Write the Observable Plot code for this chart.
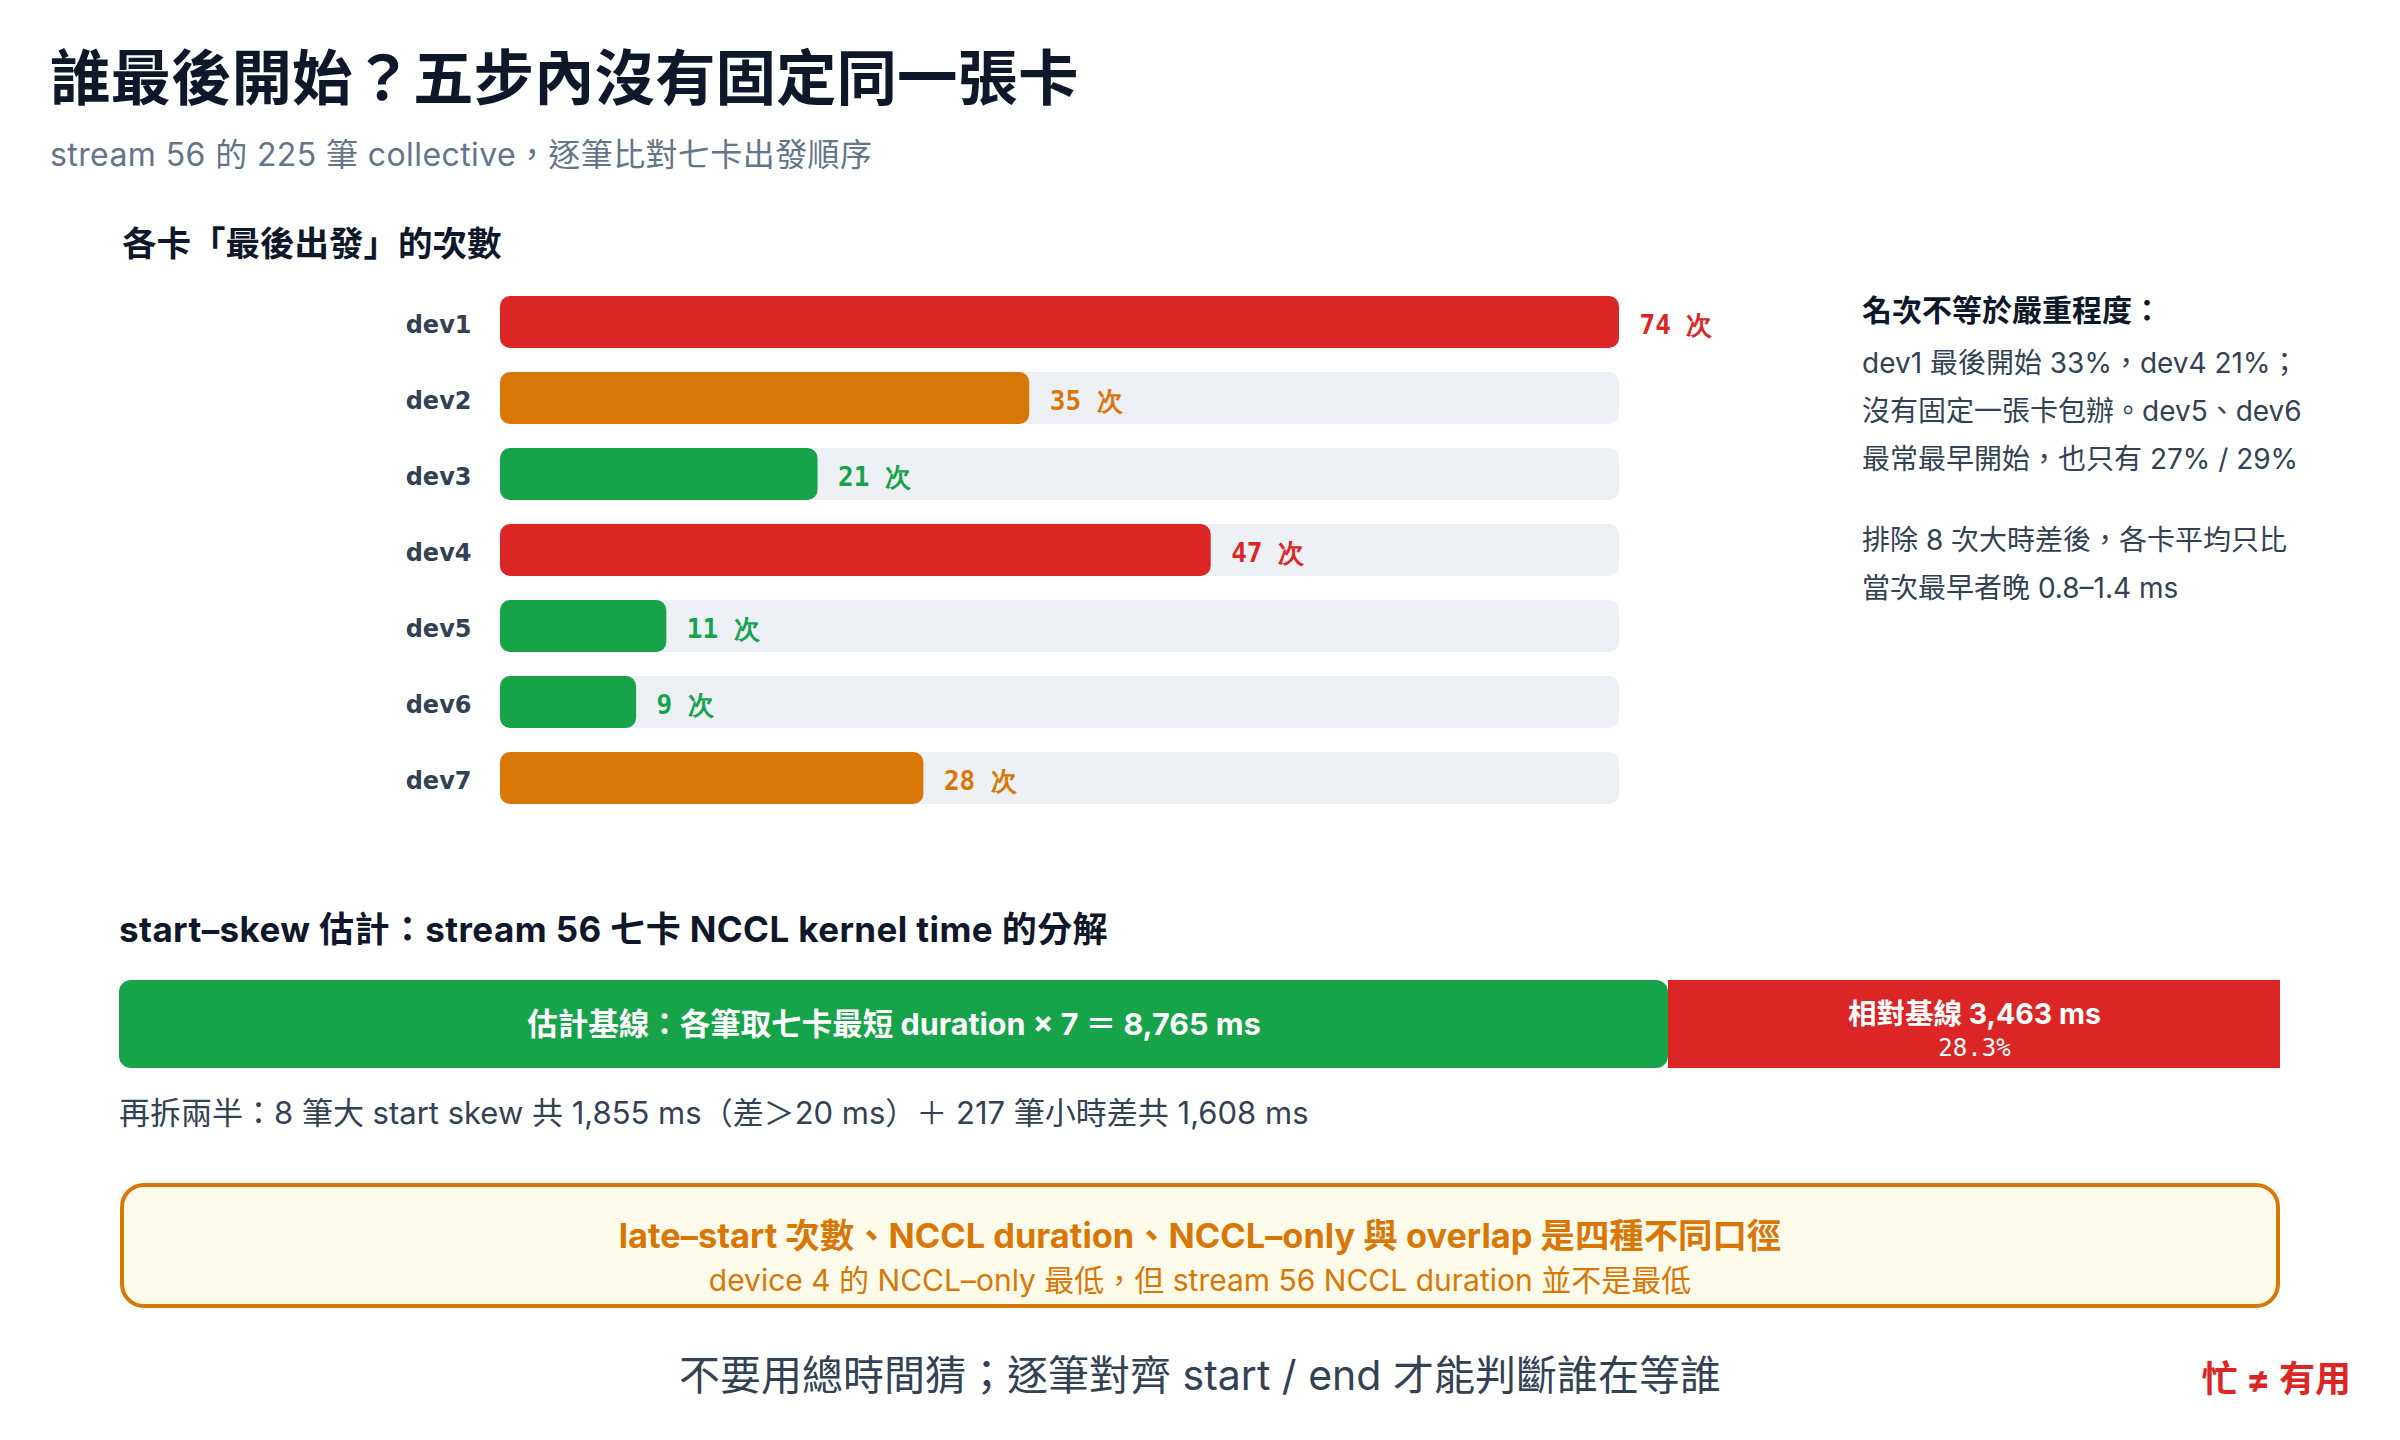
<!DOCTYPE html>
<html><head><meta charset="utf-8">
<script src="https://cdn.jsdelivr.net/npm/d3@7"></script>
<script src="https://cdn.jsdelivr.net/npm/@observablehq/plot@0.6"></script>
<style>
html,body{margin:0;padding:0;background:#fff;}
#page{position:relative;width:2400px;height:1440px;overflow:hidden;font-family:Inter,"Noto Sans CJK TC",sans-serif;}
.t{position:absolute;white-space:nowrap;line-height:1;margin:0;}
.c{left:0;width:2400px;text-align:center;}
#plot1,#plot2{position:absolute;left:0;}
#plot1{top:260px;} #plot2{top:960px;}
#box{position:absolute;left:120px;top:1183px;width:2160px;height:125px;box-sizing:border-box;border:4px solid #d97706;border-radius:24px;background:#fffbeb;}
</style></head><body>
<div id="page">
  <div class="t" id="title" style="left:50px;top:48px;font-size:60.5px;font-weight:700;color:#0f172a;"></div>
  <div class="t" id="subtitle" style="left:50px;top:139px;font-size:32px;letter-spacing:0.4px;color:#64748b;"></div>
  <div class="t" id="h1" style="left:122px;top:227px;font-size:34.5px;font-weight:700;color:#0f172a;"></div>
  <div class="t" id="noteHead" style="left:1862px;top:295px;font-size:30px;font-weight:700;color:#0f172a;"></div>
  <div class="t" id="noteP1" style="left:1862px;top:339px;font-size:28px;line-height:48px;color:#334155;"></div>
  <div class="t" id="noteP2" style="left:1862px;top:516px;font-size:28px;line-height:48px;color:#334155;"></div>
  <div id="plot1"></div>
  <div class="t" id="h2" style="left:119px;top:912px;font-size:35px;letter-spacing:0.4px;font-weight:700;color:#0f172a;"></div>
  <div id="plot2"></div>
  <div class="t" id="splitNote" style="left:119px;top:1097px;font-size:31px;color:#334155;"></div>
  <div id="box"></div>
  <div class="t c" id="callout1" style="top:1219px;font-size:34.4px;font-weight:700;color:#d97706;"></div>
  <div class="t c" id="callout2" style="top:1265px;font-size:30px;color:#d97706;"></div>
  <div class="t c" id="footer" style="top:1355px;font-size:41px;color:#334155;"></div>
  <div class="t" id="tag" style="right:49px;top:1361px;font-size:36px;font-weight:700;color:#dc2626;"></div>
</div>
<script>
// ---- data ----
const devices = ["dev1", "dev2", "dev3", "dev4", "dev5", "dev6", "dev7"];
const lateCounts = [74, 35, 21, 47, 11, 9, 28];
const streamId = 56;
const collectiveCount = 225;
const baselineMs = 8765;
const extraMs = 3463;
const bigSkewCount = 8, bigSkewMs = 1855, bigSkewThresholdMs = 20;
const smallSkewCount = 217, smallSkewMs = 1608;

const titleText = "誰最後開始？五步內沒有固定同一張卡";
const subtitleText = `stream ${streamId} 的 ${collectiveCount} 筆 collective，逐筆比對七卡出發順序`;
const h1Text = "各卡「最後出發」的次數";
const noteHeadText = "名次不等於嚴重程度：";
const noteP1Lines = ["dev1 最後開始 33%，dev4 21%；", "沒有固定一張卡包辦。dev5、dev6", "最常最早開始，也只有 27% / 29%"];
const noteP2Lines = ["排除 8 次大時差後，各卡平均只比", "當次最早者晚 0.8–1.4 ms"];
const h2Text = `start–skew 估計：stream ${streamId} 七卡 NCCL kernel time 的分解`;
const callout1Text = "late–start 次數、NCCL duration、NCCL–only 與 overlap 是四種不同口徑";
const callout2Text = `device 4 的 NCCL–only 最低，但 stream ${streamId} NCCL duration 並不是最低`;
const footerText = "不要用總時間猜；逐筆對齊 start / end 才能判斷誰在等誰";
const tagText = "忙 ≠ 有用";

// ---- styles ----
const RED = "#dc2626", ORANGE = "#d97706", GREEN = "#16a34a", TRACK = "#edf1f6";
const fmt = d3.format(",");
const colorFor = c => c >= 40 ? RED : c >= 25 ? ORANGE : GREEN;

const setText = (id, s) => { document.getElementById(id).textContent = s; };
setText("title", titleText);
setText("subtitle", subtitleText);
setText("h1", h1Text);
setText("noteHead", noteHeadText);
document.getElementById("noteP1").innerHTML = noteP1Lines.join("<br>");
document.getElementById("noteP2").innerHTML = noteP2Lines.join("<br>");
setText("h2", h2Text);
setText("splitNote", `再拆兩半：${bigSkewCount} 筆大 start skew 共 ${fmt(bigSkewMs)} ms（差＞${bigSkewThresholdMs} ms）＋ ${smallSkewCount} 筆小時差共 ${fmt(smallSkewMs)} ms`);
setText("callout1", callout1Text);
setText("callout2", callout2Text);
setText("footer", footerText);
setText("tag", tagText);

// ---- chart 1: late-start counts ----
const rows = devices.map((d, i) => ({device: d, count: lateCounts[i]}));
const maxCount = d3.max(lateCounts);
const plot1 = Plot.plot({
  width: 1800, height: 580,
  marginLeft: 500, marginRight: 181, marginTop: 11, marginBottom: 12,
  x: {domain: [0, maxCount], axis: null},
  y: {domain: devices, padding: 0.318, label: null},
  color: {type: "identity"},
  style: {background: "transparent", fontFamily: "DejaVu Sans, sans-serif", overflow: "visible"},
  marks: [
    Plot.barX(rows, {y: "device", x1: 0, x2: maxCount, fill: TRACK, rx: 10}),
    Plot.barX(rows, {y: "device", x1: 0, x2: "count", fill: d => colorFor(d.count), rx: 10}),
    Plot.text(rows, {y: "device", x: "count", text: d => `${d.count} 次`, dx: 20, dy: 3, textAnchor: "start",
      fill: d => colorFor(d.count), fontSize: 26, fontWeight: "bold", fontFamily: "DejaVu Sans Mono, monospace"}),
    Plot.axisY({tickSize: 0, tickPadding: 29, dy: 3, fontSize: 24, fontWeight: "bold", color: "#334155", label: null})
  ]
});
document.getElementById("plot1").append(plot1);

// ---- chart 2: decomposition ----
const total = baselineMs + extraMs;
const parts = [
  {name: "baseline", x1: 0, x2: baselineMs},
  {name: "extra", x1: baselineMs, x2: total}
];
const mid = d => (d.x1 + d.x2) / 2;
const sansFont = "Inter, 'Noto Sans CJK TC', sans-serif";
const plot2 = Plot.plot({
  width: 2400, height: 130,
  marginLeft: 119, marginRight: 120, marginTop: 20, marginBottom: 22,
  x: {domain: [0, total], axis: null},
  style: {background: "transparent", overflow: "visible"},
  marks: [
    Plot.rect(parts.slice(0, 1), {x1: "x1", x2: "x2", fill: GREEN, rx: 12}),
    Plot.rect(parts.slice(1), {x1: "x1", x2: "x2", fill: RED}),
    Plot.text(parts.slice(0, 1), {x: mid, frameAnchor: "middle", dy: 1,
      text: d => `估計基線：各筆取七卡最短 duration × ${devices.length} ＝ ${fmt(d.x2 - d.x1)} ms`,
      fill: "white", fontSize: 30.5, fontWeight: "bold", fontFamily: sansFont}),
    Plot.text(parts.slice(1), {x: mid, frameAnchor: "middle", dy: -10,
      text: d => `相對基線 ${fmt(d.x2 - d.x1)} ms`,
      fill: "white", fontSize: 28.5, fontWeight: "bold", fontFamily: sansFont}),
    Plot.text(parts.slice(1), {x: mid, frameAnchor: "middle", dy: 24,
      text: d => `${((d.x2 - d.x1) / total * 100).toFixed(1)}%`,
      fill: "white", fontSize: 24, fontFamily: "DejaVu Sans Mono, monospace", letterSpacing: "1px"})
  ]
});
document.getElementById("plot2").append(plot2);
</script>
</body></html>
